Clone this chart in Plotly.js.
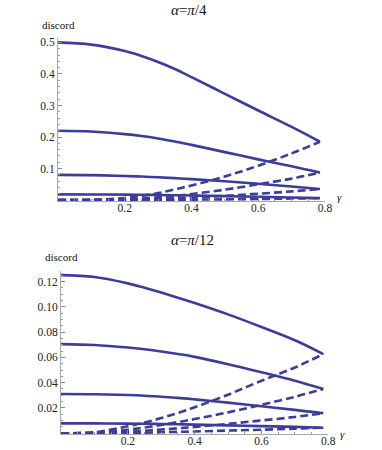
<!DOCTYPE html>
<html>
<head>
<meta charset="utf-8">
<script src="https://cdn.plot.ly/plotly-3.0.1.min.js"></script>
<style>
  body { margin: 0; background: #fff; }
  #plot { width: 382px; height: 450px; }
</style>
</head>
<body>
<div id="plot"></div>
<script>
const gamma = [0, 0.1, 0.2, 0.25, 0.3, 0.35, 0.4, 0.5, 0.6, 0.7, 0.785];

// alpha = pi/4 panel
const topSolid1 = [0.5, 0.4931, 0.4725, 0.457, 0.438, 0.4158, 0.39, 0.337, 0.284, 0.232, 0.185];
const topSolid2 = [0.22, 0.2173, 0.209, 0.203, 0.1953, 0.186, 0.175, 0.152, 0.129, 0.107, 0.087];
const topSolid3 = [0.08, 0.0791, 0.0765, 0.0745, 0.0722, 0.0695, 0.0665, 0.0595, 0.0515, 0.043, 0.035];
const topSolid4 = [0.018, 0.0178, 0.0172, 0.0167, 0.0161, 0.0153, 0.0144, 0.0124, 0.0104, 0.0082, 0.006];
const topDash1 = [0, 0.0008, 0.006, 0.013, 0.022, 0.034, 0.046, 0.075, 0.109, 0.148, 0.185];
const topDash2 = [0, 0.0003, 0.0025, 0.005, 0.0085, 0.013, 0.019, 0.033, 0.05, 0.068, 0.087];
const topDash3 = [0, 0.0001, 0.001, 0.002, 0.0035, 0.0055, 0.0078, 0.0135, 0.0202, 0.0275, 0.035];
const topDash4 = [0, 0, 0.0002, 0.0004, 0.0006, 0.0009, 0.0013, 0.0022, 0.0034, 0.0047, 0.006];

// alpha = pi/12 panel
const botSolid1 = [0.125, 0.1235, 0.1185, 0.115, 0.1112, 0.1072, 0.103, 0.094, 0.084, 0.0735, 0.0626];
const botSolid2 = [0.0705, 0.0698, 0.0678, 0.0664, 0.0647, 0.0627, 0.0604, 0.0546, 0.0482, 0.0415, 0.035];
const botSolid3 = [0.031, 0.0308, 0.0302, 0.0297, 0.0289, 0.028, 0.0268, 0.0242, 0.0213, 0.0185, 0.0158];
const botSolid4 = [0.0078, 0.0078, 0.0076, 0.0075, 0.0073, 0.0071, 0.0068, 0.0062, 0.0056, 0.005, 0.0044];
const botDash1 = [0, 0.0008, 0.0055, 0.0085, 0.012, 0.016, 0.0205, 0.0305, 0.0415, 0.052, 0.0626];
const botDash2 = [0, 0.0004, 0.0028, 0.0045, 0.0065, 0.0088, 0.0112, 0.0165, 0.0225, 0.0288, 0.035];
const botDash3 = [0, 0.0002, 0.0012, 0.002, 0.0029, 0.0039, 0.005, 0.0074, 0.0101, 0.0129, 0.0158];
const botDash4 = [0, 0.00005, 0.0003, 0.0005, 0.0008, 0.0011, 0.0014, 0.0021, 0.0028, 0.0036, 0.0044];

const topTicks = [0.1, 0.2, 0.3, 0.4, 0.5];
const topTickText = ['0.1', '0.2', '0.3', '0.4', '0.5'];
const botTicks = [0.02, 0.04, 0.06, 0.08, 0.10, 0.12];
const botTickText = ['0.02', '0.04', '0.06', '0.08', '0.10', '0.12'];
const xTicks = [0.2, 0.4, 0.6, 0.8];
const xTickText = ['0.2', '0.4', '0.6', '0.8'];

const lineColor = '#3c3c9c';
const serif = "'Liberation Serif', 'DejaVu Serif', serif";

function makeTrace(y, dashed, xa, ya) {
  return {
    x: gamma,
    y: y,
    xaxis: xa,
    yaxis: ya,
    mode: 'lines',
    type: 'scatter',
    line: { color: lineColor, width: 2.6, shape: 'spline', smoothing: 1, dash: dashed ? '8px,4px' : 'solid' },
    hoverinfo: 'none'
  };
}

const traces = [
  makeTrace(topSolid1, false, 'x', 'y'),
  makeTrace(topSolid2, false, 'x', 'y'),
  makeTrace(topSolid3, false, 'x', 'y'),
  makeTrace(topSolid4, false, 'x', 'y'),
  makeTrace(topDash1, true, 'x', 'y'),
  makeTrace(topDash2, true, 'x', 'y'),
  makeTrace(topDash3, true, 'x', 'y'),
  makeTrace(topDash4, true, 'x', 'y'),
  makeTrace(botSolid1, false, 'x2', 'y2'),
  makeTrace(botSolid2, false, 'x2', 'y2'),
  makeTrace(botSolid3, false, 'x2', 'y2'),
  makeTrace(botSolid4, false, 'x2', 'y2'),
  makeTrace(botDash1, true, 'x2', 'y2'),
  makeTrace(botDash2, true, 'x2', 'y2'),
  makeTrace(botDash3, true, 'x2', 'y2'),
  makeTrace(botDash4, true, 'x2', 'y2')
];

const axisCommon = {
  showgrid: false,
  zeroline: false,
  showline: true,
  linecolor: '#a8a8a8',
  linewidth: 1,
  ticks: 'inside',
  ticklen: 4,
  tickwidth: 1,
  tickcolor: '#888',
  tickfont: { family: serif, size: 11.5, color: '#222' }
};

function note(text, px, py, size) {
  return {
    text: text, xref: 'paper', yref: 'paper', x: px / 382, y: 1 - py / 450,
    xanchor: 'center', yanchor: 'middle', showarrow: false,
    font: { family: serif, size: size, color: '#111' }
  };
}

const layout = {
  width: 382,
  height: 450,
  margin: { l: 0, r: 0, t: 0, b: 0 },
  font: { family: serif },
  paper_bgcolor: '#fff',
  plot_bgcolor: 'rgba(0,0,0,0)',
  showlegend: false,
  xaxis: Object.assign({}, axisCommon, {
    domain: [58 / 382, 325 / 382], range: [0, 0.8], anchor: 'y',
    tickvals: xTicks, ticktext: xTickText, ticklabelstandoff: -4,
    minor: { dtick: 0.05, ticklen: 2, tickcolor: '#999', ticks: 'inside' }
  }),
  yaxis: Object.assign({}, axisCommon, {
    domain: [(450 - 201) / 450, (450 - 38) / 450], range: [-0.003, 0.514], anchor: 'x',
    tickvals: topTicks, ticktext: topTickText,
    minor: { dtick: 0.02, tick0: 0, ticklen: 2, tickcolor: '#999', ticks: 'inside' }
  }),
  xaxis2: Object.assign({}, axisCommon, {
    domain: [61 / 382, 328.3 / 382], range: [0, 0.8], anchor: 'y2',
    tickvals: xTicks, ticktext: xTickText, ticklabelstandoff: -4,
    minor: { dtick: 0.05, ticklen: 2, tickcolor: '#999', ticks: 'inside' }
  }),
  yaxis2: Object.assign({}, axisCommon, {
    domain: [(450 - 434) / 450, (450 - 271) / 450], range: [-0.0006, 0.1283], anchor: 'x2',
    tickvals: botTicks, ticktext: botTickText,
    minor: { dtick: 0.005, tick0: 0, ticklen: 2, tickcolor: '#999', ticks: 'inside' }
  }),
  annotations: [
    note('<i>α</i>=<i>π</i>/4', 189, 10, 15),
    note('<i>α</i>=<i>π</i>/12', 192, 239.5, 15),
    note('discord', 58.5, 25, 11),
    note('discord', 61, 257, 11),
    note('<i>γ</i>', 339, 197, 11),
    note('<i>γ</i>', 342, 434, 11)
  ]
};

Plotly.newPlot('plot', traces, layout, { staticPlot: true, displayModeBar: false });
</script>
</body>
</html>
